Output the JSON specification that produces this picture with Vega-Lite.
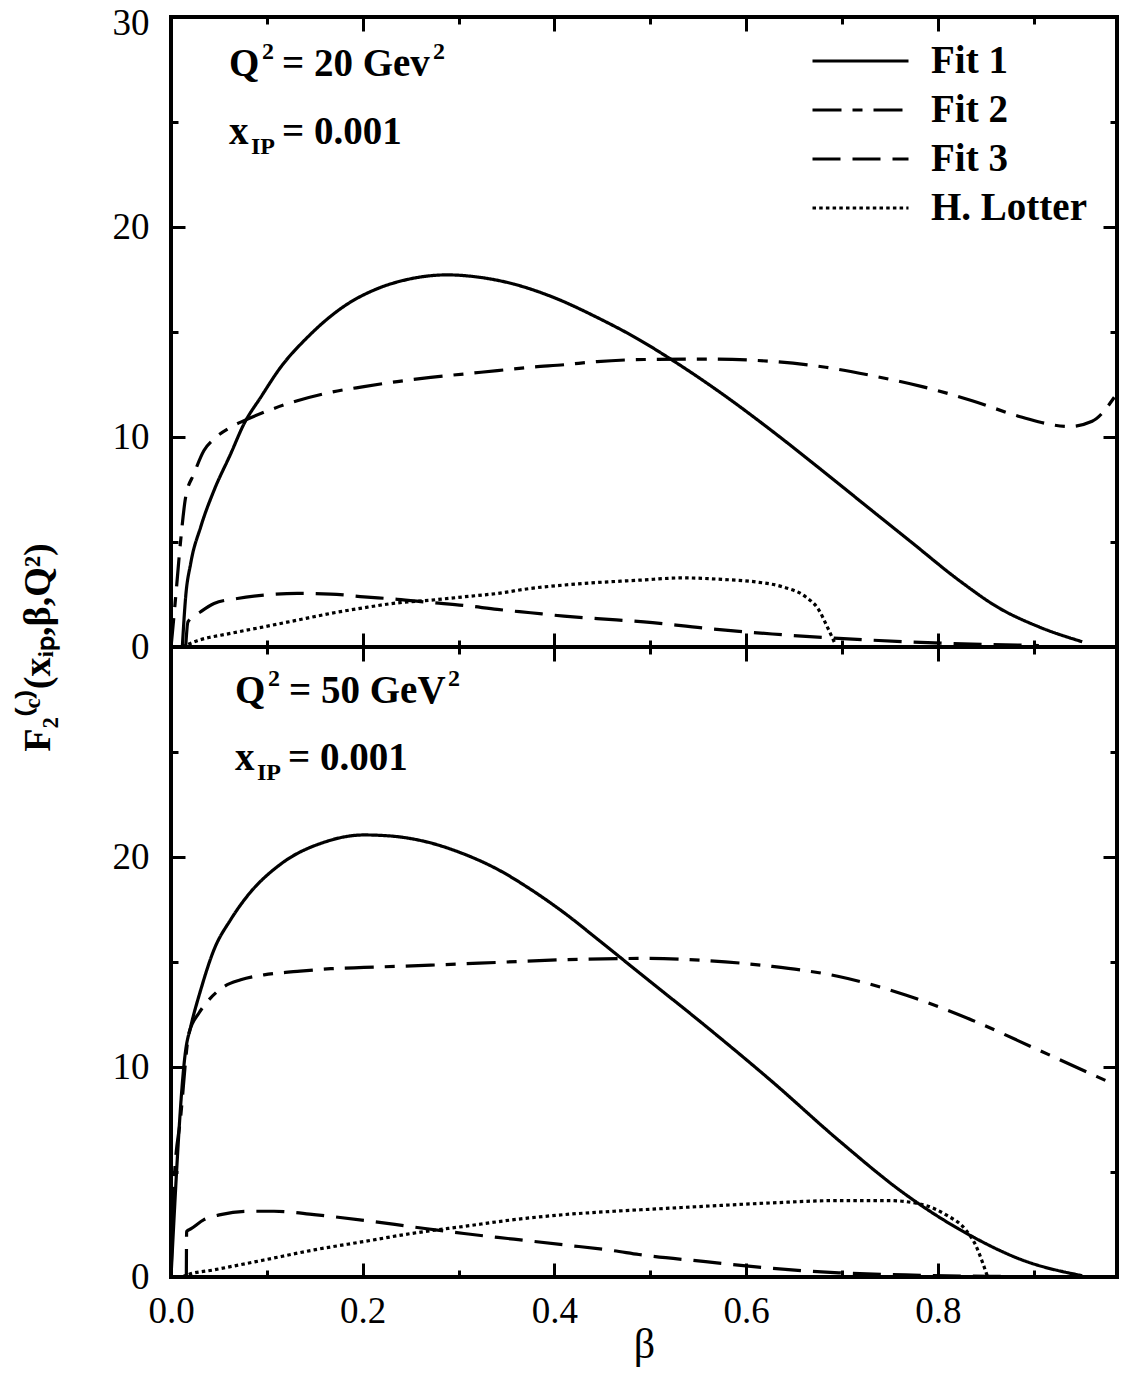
{
  "$schema": "https://vega.github.io/schema/vega-lite/v6.json",
  "padding": {"left": 17, "top": 2, "right": 5, "bottom": 5},
  "background": "white",
  "config": {
    "view": {"stroke": "black", "strokeWidth": 4},
    "font": "Liberation Serif",
    "axis": {
      "domain": false, "grid": false, "labelFlush": false,
      "labelFont": "Liberation Serif", "labelFontSize": 37, "labelColor": "black",
      "tickColor": "black", "tickWidth": 3,
      "titleFont": "Liberation Serif", "titleColor": "black"
    },
    "text": {"font": "Liberation Serif", "fontWeight": "bold", "color": "black"}
  },
  "datasets": {
    "top": [
      {"b": 0.0118, "v": 0, "s": "Fit 1"}, {"b": 0.0153, "v": 2.39, "s": "Fit 1"}, {"b": 0.0205, "v": 3.97, "s": "Fit 1"}, {"b": 0.031, "v": 5.72, "s": "Fit 1"}, {"b": 0.0449, "v": 7.46, "s": "Fit 1"}, {"b": 0.0623, "v": 9.2, "s": "Fit 1"}, {"b": 0.0762, "v": 10.63, "s": "Fit 1"}, {"b": 0.0936, "v": 11.89, "s": "Fit 1"}, {"b": 0.1144, "v": 13.32, "s": "Fit 1"}, {"b": 0.1422, "v": 14.74, "s": "Fit 1"}, {"b": 0.184, "v": 16.33, "s": "Fit 1"}, {"b": 0.2152, "v": 17.06, "s": "Fit 1"}, {"b": 0.2465, "v": 17.5, "s": "Fit 1"}, {"b": 0.2882, "v": 17.72, "s": "Fit 1"}, {"b": 0.3195, "v": 17.62, "s": "Fit 1"}, {"b": 0.3578, "v": 17.28, "s": "Fit 1"}, {"b": 0.3995, "v": 16.64, "s": "Fit 1"}, {"b": 0.4447, "v": 15.69, "s": "Fit 1"}, {"b": 0.4882, "v": 14.64, "s": "Fit 1"}, {"b": 0.523, "v": 13.66, "s": "Fit 1"}, {"b": 0.5786, "v": 11.94, "s": "Fit 1"}, {"b": 0.6273, "v": 10.28, "s": "Fit 1"}, {"b": 0.676, "v": 8.53, "s": "Fit 1"}, {"b": 0.7247, "v": 6.74, "s": "Fit 1"}, {"b": 0.7733, "v": 4.96, "s": "Fit 1"}, {"b": 0.822, "v": 3.18, "s": "Fit 1"}, {"b": 0.8638, "v": 1.86, "s": "Fit 1"}, {"b": 0.9055, "v": 0.96, "s": "Fit 1"}, {"b": 0.9507, "v": 0.25, "s": "Fit 1"},
      {"b": 0.0, "v": 0, "s": "Fit 2"}, {"b": 0.0014, "v": 0.65, "s": "Fit 2"}, {"b": 0.0049, "v": 2.39, "s": "Fit 2"}, {"b": 0.0101, "v": 5.08, "s": "Fit 2"}, {"b": 0.0153, "v": 7.14, "s": "Fit 2"}, {"b": 0.024, "v": 8.25, "s": "Fit 2"}, {"b": 0.0344, "v": 9.36, "s": "Fit 2"}, {"b": 0.0449, "v": 9.91, "s": "Fit 2"}, {"b": 0.0623, "v": 10.47, "s": "Fit 2"}, {"b": 0.0762, "v": 10.78, "s": "Fit 2"}, {"b": 0.097, "v": 11.18, "s": "Fit 2"}, {"b": 0.1318, "v": 11.73, "s": "Fit 2"}, {"b": 0.1666, "v": 12.13, "s": "Fit 2"}, {"b": 0.2013, "v": 12.4, "s": "Fit 2"}, {"b": 0.2361, "v": 12.64, "s": "Fit 2"}, {"b": 0.2709, "v": 12.84, "s": "Fit 2"}, {"b": 0.3057, "v": 13.0, "s": "Fit 2"}, {"b": 0.3404, "v": 13.16, "s": "Fit 2"}, {"b": 0.3752, "v": 13.32, "s": "Fit 2"}, {"b": 0.41, "v": 13.44, "s": "Fit 2"}, {"b": 0.4447, "v": 13.59, "s": "Fit 2"}, {"b": 0.4934, "v": 13.69, "s": "Fit 2"}, {"b": 0.5578, "v": 13.71, "s": "Fit 2"}, {"b": 0.6273, "v": 13.6, "s": "Fit 2"}, {"b": 0.683, "v": 13.32, "s": "Fit 2"}, {"b": 0.7316, "v": 12.92, "s": "Fit 2"}, {"b": 0.7838, "v": 12.4, "s": "Fit 2"}, {"b": 0.8359, "v": 11.73, "s": "Fit 2"}, {"b": 0.8881, "v": 10.94, "s": "Fit 2"}, {"b": 0.9368, "v": 10.5, "s": "Fit 2"}, {"b": 0.9611, "v": 10.75, "s": "Fit 2"}, {"b": 0.9854, "v": 11.97, "s": "Fit 2"},
      {"b": 0.0153, "v": 0, "s": "Fit 3"}, {"b": 0.0177, "v": 1.2, "s": "Fit 3"}, {"b": 0.031, "v": 1.68, "s": "Fit 3"}, {"b": 0.0449, "v": 2.07, "s": "Fit 3"}, {"b": 0.0692, "v": 2.31, "s": "Fit 3"}, {"b": 0.097, "v": 2.47, "s": "Fit 3"}, {"b": 0.1318, "v": 2.55, "s": "Fit 3"}, {"b": 0.1666, "v": 2.52, "s": "Fit 3"}, {"b": 0.2013, "v": 2.39, "s": "Fit 3"}, {"b": 0.2361, "v": 2.27, "s": "Fit 3"}, {"b": 0.2709, "v": 2.12, "s": "Fit 3"}, {"b": 0.3057, "v": 1.98, "s": "Fit 3"}, {"b": 0.3404, "v": 1.79, "s": "Fit 3"}, {"b": 0.3752, "v": 1.63, "s": "Fit 3"}, {"b": 0.41, "v": 1.47, "s": "Fit 3"}, {"b": 0.4447, "v": 1.35, "s": "Fit 3"}, {"b": 0.4934, "v": 1.2, "s": "Fit 3"}, {"b": 0.5578, "v": 0.89, "s": "Fit 3"}, {"b": 0.6273, "v": 0.62, "s": "Fit 3"}, {"b": 0.6968, "v": 0.41, "s": "Fit 3"}, {"b": 0.7664, "v": 0.25, "s": "Fit 3"}, {"b": 0.8359, "v": 0.14, "s": "Fit 3"}, {"b": 0.9055, "v": 0.07, "s": "Fit 3"},
      {"b": 0.0115, "v": 0, "s": "H. Lotter"}, {"b": 0.0275, "v": 0.3, "s": "H. Lotter"}, {"b": 0.0623, "v": 0.65, "s": "H. Lotter"}, {"b": 0.097, "v": 0.96, "s": "H. Lotter"}, {"b": 0.1318, "v": 1.28, "s": "H. Lotter"}, {"b": 0.1666, "v": 1.6, "s": "H. Lotter"}, {"b": 0.2013, "v": 1.87, "s": "H. Lotter"}, {"b": 0.2361, "v": 2.1, "s": "H. Lotter"}, {"b": 0.2709, "v": 2.23, "s": "H. Lotter"}, {"b": 0.3057, "v": 2.39, "s": "H. Lotter"}, {"b": 0.3404, "v": 2.55, "s": "H. Lotter"}, {"b": 0.3752, "v": 2.79, "s": "H. Lotter"}, {"b": 0.41, "v": 2.95, "s": "H. Lotter"}, {"b": 0.4447, "v": 3.07, "s": "H. Lotter"}, {"b": 0.4882, "v": 3.18, "s": "H. Lotter"}, {"b": 0.5334, "v": 3.29, "s": "H. Lotter"}, {"b": 0.5751, "v": 3.22, "s": "H. Lotter"}, {"b": 0.61, "v": 3.1, "s": "H. Lotter"}, {"b": 0.6377, "v": 2.87, "s": "H. Lotter"}, {"b": 0.6621, "v": 2.39, "s": "H. Lotter"}, {"b": 0.676, "v": 1.76, "s": "H. Lotter"}, {"b": 0.6847, "v": 0.96, "s": "H. Lotter"}, {"b": 0.6934, "v": 0.1, "s": "H. Lotter"}
    ],
    "bottom": [
      {"b": 0.0, "v": 0, "s": "Fit 1"}, {"b": 0.0153, "v": 10.8, "s": "Fit 1"}, {"b": 0.0205, "v": 11.91, "s": "Fit 1"}, {"b": 0.031, "v": 13.67, "s": "Fit 1"}, {"b": 0.0449, "v": 15.59, "s": "Fit 1"}, {"b": 0.0623, "v": 17.02, "s": "Fit 1"}, {"b": 0.0796, "v": 18.14, "s": "Fit 1"}, {"b": 0.1144, "v": 19.66, "s": "Fit 1"}, {"b": 0.1596, "v": 20.7, "s": "Fit 1"}, {"b": 0.2013, "v": 21.05, "s": "Fit 1"}, {"b": 0.2291, "v": 21.0, "s": "Fit 1"}, {"b": 0.2639, "v": 20.75, "s": "Fit 1"}, {"b": 0.3057, "v": 20.14, "s": "Fit 1"}, {"b": 0.3404, "v": 19.42, "s": "Fit 1"}, {"b": 0.3752, "v": 18.46, "s": "Fit 1"}, {"b": 0.41, "v": 17.35, "s": "Fit 1"}, {"b": 0.4447, "v": 16.1, "s": "Fit 1"}, {"b": 0.4882, "v": 14.5, "s": "Fit 1"}, {"b": 0.5578, "v": 11.95, "s": "Fit 1"}, {"b": 0.6273, "v": 9.3, "s": "Fit 1"}, {"b": 0.6968, "v": 6.5, "s": "Fit 1"}, {"b": 0.7664, "v": 3.93, "s": "Fit 1"}, {"b": 0.8359, "v": 1.93, "s": "Fit 1"}, {"b": 0.8881, "v": 0.81, "s": "Fit 1"}, {"b": 0.9507, "v": 0.06, "s": "Fit 1"},
      {"b": 0.0, "v": 0, "s": "Fit 2"}, {"b": 0.0031, "v": 4.4, "s": "Fit 2"}, {"b": 0.0101, "v": 7.63, "s": "Fit 2"}, {"b": 0.0188, "v": 11.61, "s": "Fit 2"}, {"b": 0.0292, "v": 12.57, "s": "Fit 2"}, {"b": 0.0379, "v": 13.11, "s": "Fit 2"}, {"b": 0.0553, "v": 13.83, "s": "Fit 2"}, {"b": 0.0727, "v": 14.15, "s": "Fit 2"}, {"b": 0.097, "v": 14.39, "s": "Fit 2"}, {"b": 0.1318, "v": 14.55, "s": "Fit 2"}, {"b": 0.1666, "v": 14.68, "s": "Fit 2"}, {"b": 0.2013, "v": 14.74, "s": "Fit 2"}, {"b": 0.2709, "v": 14.85, "s": "Fit 2"}, {"b": 0.3404, "v": 14.98, "s": "Fit 2"}, {"b": 0.41, "v": 15.11, "s": "Fit 2"}, {"b": 0.4934, "v": 15.17, "s": "Fit 2"}, {"b": 0.5578, "v": 15.07, "s": "Fit 2"}, {"b": 0.6273, "v": 14.79, "s": "Fit 2"}, {"b": 0.6968, "v": 14.31, "s": "Fit 2"}, {"b": 0.7664, "v": 13.43, "s": "Fit 2"}, {"b": 0.8359, "v": 12.23, "s": "Fit 2"}, {"b": 0.9055, "v": 10.8, "s": "Fit 2"}, {"b": 0.975, "v": 9.36, "s": "Fit 2"},
      {"b": 0.016, "v": 0, "s": "Fit 3"}, {"b": 0.0163, "v": 2.17, "s": "Fit 3"}, {"b": 0.021, "v": 2.3, "s": "Fit 3"}, {"b": 0.0344, "v": 2.73, "s": "Fit 3"}, {"b": 0.0518, "v": 2.97, "s": "Fit 3"}, {"b": 0.0796, "v": 3.13, "s": "Fit 3"}, {"b": 0.1074, "v": 3.13, "s": "Fit 3"}, {"b": 0.1492, "v": 2.97, "s": "Fit 3"}, {"b": 0.2013, "v": 2.7, "s": "Fit 3"}, {"b": 0.2535, "v": 2.38, "s": "Fit 3"}, {"b": 0.3057, "v": 2.07, "s": "Fit 3"}, {"b": 0.3578, "v": 1.8, "s": "Fit 3"}, {"b": 0.41, "v": 1.53, "s": "Fit 3"}, {"b": 0.4621, "v": 1.25, "s": "Fit 3"}, {"b": 0.4882, "v": 1.07, "s": "Fit 3"}, {"b": 0.5578, "v": 0.73, "s": "Fit 3"}, {"b": 0.6273, "v": 0.41, "s": "Fit 3"}, {"b": 0.6968, "v": 0.2, "s": "Fit 3"}, {"b": 0.7664, "v": 0.1, "s": "Fit 3"}, {"b": 0.8359, "v": 0.04, "s": "Fit 3"}, {"b": 0.88, "v": 0.02, "s": "Fit 3"},
      {"b": 0.012, "v": 0, "s": "H. Lotter"}, {"b": 0.017, "v": 0.1, "s": "H. Lotter"}, {"b": 0.0449, "v": 0.34, "s": "H. Lotter"}, {"b": 0.097, "v": 0.81, "s": "H. Lotter"}, {"b": 0.1492, "v": 1.29, "s": "H. Lotter"}, {"b": 0.2013, "v": 1.69, "s": "H. Lotter"}, {"b": 0.2535, "v": 2.09, "s": "H. Lotter"}, {"b": 0.3057, "v": 2.41, "s": "H. Lotter"}, {"b": 0.3578, "v": 2.73, "s": "H. Lotter"}, {"b": 0.41, "v": 2.97, "s": "H. Lotter"}, {"b": 0.4621, "v": 3.13, "s": "H. Lotter"}, {"b": 0.4934, "v": 3.21, "s": "H. Lotter"}, {"b": 0.5578, "v": 3.37, "s": "H. Lotter"}, {"b": 0.6273, "v": 3.53, "s": "H. Lotter"}, {"b": 0.6968, "v": 3.64, "s": "H. Lotter"}, {"b": 0.749, "v": 3.64, "s": "H. Lotter"}, {"b": 0.7838, "v": 3.45, "s": "H. Lotter"}, {"b": 0.8082, "v": 2.97, "s": "H. Lotter"}, {"b": 0.829, "v": 2.25, "s": "H. Lotter"}, {"b": 0.8394, "v": 1.53, "s": "H. Lotter"}, {"b": 0.8464, "v": 0.73, "s": "H. Lotter"}, {"b": 0.8516, "v": 0.06, "s": "H. Lotter"}
    ]
  },
  "spacing": 0,
  "bounds": "flush",
  "resolve": {"legend": {"strokeDash": "independent"}},
  "vconcat": [
    {
      "width": 946, "height": 630,
      "resolve": {"axis": {"x": "independent", "y": "independent"}},
      "layer": [
        {
          "data": {"name": "top"},
          "mark": {"type": "line", "color": "black", "strokeWidth": 3.2, "interpolate": "monotone"},
          "encoding": {
            "x": {"field": "b", "type": "quantitative", "scale": {"domain": [0, 0.987], "nice": false, "zero": false},
              "axis": {"orient": "bottom", "values": [0, 0.1, 0.2, 0.3, 0.4, 0.5, 0.6, 0.7, 0.8, 0.9], "labels": false, "title": null,
                "tickSize": {"expr": "round(datum.value*10) % 2 == 0 ? -14 : -7"}}},
            "y": {"field": "v", "type": "quantitative", "scale": {"domain": [0, 30], "nice": false},
              "axis": {"orient": "left", "values": [0, 5, 10, 15, 20, 25, 30], "labelExpr": "datum.value % 10 == 0 ? datum.label : ''",
                "labelPadding": 36, "labelOffset": {"expr": "datum.value == 30 ? 6 : 0"},
                "tickSize": {"expr": "datum.value % 10 == 0 ? -14 : -7"},
                "title": "F₂⁽ᶜ⁾(xᵢₚ,β,Q²)", "titleFontSize": 38, "titleFontWeight": "bold", "titleAngle": 270,
                "titleX": -122, "titleY": 630, "titleAlign": "center", "titleBaseline": "alphabetic"}},
            "strokeDash": {"field": "s", "type": "nominal",
              "scale": {"domain": ["Fit 1", "Fit 2", "Fit 3", "H. Lotter"], "range": [[1, 0], [29, 11, 10, 11], [28, 12], [3.5, 3.2]]},
              "legend": {"orient": "none", "legendX": 634, "legendY": 24.5, "title": null, "padding": 0,
                "symbolType": "M-1,0H7", "symbolSize": 576, "symbolStrokeWidth": 3, "symbolStrokeColor": "black",
                "labelFont": "Liberation Serif", "labelFontWeight": "bold", "labelFontSize": 39, "labelColor": "black",
                "labelOffset": 87, "rowPadding": 9, "labelLimit": 400}}
          }
        },
        {
          "data": {"values": [{}]},
          "mark": {"type": "text", "align": "left", "baseline": "alphabetic", "fontSize": 39},
          "encoding": {
            "x": {"datum": 0.0605, "type": "quantitative", "scale": {"domain": [0, 0.987], "nice": false, "zero": false},
              "axis": {"orient": "top", "values": [0, 0.1, 0.2, 0.3, 0.4, 0.5, 0.6, 0.7, 0.8, 0.9], "labels": false, "title": null,
                "tickSize": {"expr": "round(datum.value*10) % 2 == 0 ? -14 : -7"}}},
            "y": {"datum": 27.17, "type": "quantitative", "scale": {"domain": [0, 30], "nice": false},
              "axis": {"orient": "right", "values": [0, 5, 10, 15, 20, 25, 30], "labels": false, "title": null,
                "tickSize": {"expr": "datum.value % 10 == 0 ? -14 : -7"}}},
            "text": {"value": "Q"}
          }
        },
        {
          "data": {"values": [{}]},
          "mark": {"type": "text", "align": "left", "baseline": "alphabetic", "fontSize": 24, "dx": 33, "dy": -17},
          "encoding": {
            "x": {"datum": 0.0605, "type": "quantitative", "axis": null},
            "y": {"datum": 27.17, "type": "quantitative", "axis": null},
            "text": {"value": "2"}
          }
        },
        {
          "data": {"values": [{}]},
          "mark": {"type": "text", "align": "left", "baseline": "alphabetic", "fontSize": 39, "dx": 53},
          "encoding": {
            "x": {"datum": 0.0605, "type": "quantitative", "axis": null},
            "y": {"datum": 27.17, "type": "quantitative", "axis": null},
            "text": {"value": "= 20 Gev"}
          }
        },
        {
          "data": {"values": [{}]},
          "mark": {"type": "text", "align": "left", "baseline": "alphabetic", "fontSize": 24, "dx": 204, "dy": -17},
          "encoding": {
            "x": {"datum": 0.0605, "type": "quantitative", "axis": null},
            "y": {"datum": 27.17, "type": "quantitative", "axis": null},
            "text": {"value": "2"}
          }
        },
        {
          "data": {"values": [{}]},
          "mark": {"type": "text", "align": "left", "baseline": "alphabetic", "fontSize": 39},
          "encoding": {
            "x": {"datum": 0.0605, "type": "quantitative", "axis": null},
            "y": {"datum": 23.93, "type": "quantitative", "axis": null},
            "text": {"value": "x"}
          }
        },
        {
          "data": {"values": [{}]},
          "mark": {"type": "text", "align": "left", "baseline": "alphabetic", "fontSize": 24, "dx": 22, "dy": 10},
          "encoding": {
            "x": {"datum": 0.0605, "type": "quantitative", "axis": null},
            "y": {"datum": 23.93, "type": "quantitative", "axis": null},
            "text": {"value": "IP"}
          }
        },
        {
          "data": {"values": [{}]},
          "mark": {"type": "text", "align": "left", "baseline": "alphabetic", "fontSize": 39, "dx": 53},
          "encoding": {
            "x": {"datum": 0.0605, "type": "quantitative", "axis": null},
            "y": {"datum": 23.93, "type": "quantitative", "axis": null},
            "text": {"value": "= 0.001"}
          }
        }
      ]
    },
    {
      "width": 946, "height": 630,
      "resolve": {"axis": {"x": "independent", "y": "independent"}},
      "layer": [
        {
          "data": {"name": "bottom"},
          "mark": {"type": "line", "color": "black", "strokeWidth": 3.2, "interpolate": "monotone"},
          "encoding": {
            "x": {"field": "b", "type": "quantitative", "scale": {"domain": [0, 0.987], "nice": false, "zero": false},
              "axis": {"orient": "bottom", "values": [0, 0.1, 0.2, 0.3, 0.4, 0.5, 0.6, 0.7, 0.8, 0.9],
                "labelExpr": "round(datum.value*10) % 2 == 0 ? format(datum.value, '.1f') : ''", "labelPadding": 30,
                "tickSize": {"expr": "round(datum.value*10) % 2 == 0 ? -14 : -7"},
                "title": "β", "titleFontSize": 42, "titleFontWeight": "normal", "titleY": 80, "titleBaseline": "alphabetic"}},
            "y": {"field": "v", "type": "quantitative", "scale": {"domain": [0, 30], "nice": false},
              "axis": {"orient": "left", "values": [0, 5, 10, 15, 20, 25, 30], "labelExpr": "datum.value % 10 == 0 && datum.value < 30 ? datum.label : ''",
                "labelPadding": 36, "tickSize": {"expr": "datum.value % 10 == 0 ? -14 : -7"}, "title": null}},
            "strokeDash": {"field": "s", "type": "nominal",
              "scale": {"domain": ["Fit 1", "Fit 2", "Fit 3", "H. Lotter"], "range": [[1, 0], [29, 11, 10, 11], [28, 12], [3.5, 3.2]]},
              "legend": null}
          }
        },
        {
          "data": {"values": [{}]},
          "mark": {"type": "text", "align": "left", "baseline": "alphabetic", "fontSize": 39},
          "encoding": {
            "x": {"datum": 0.0668, "type": "quantitative", "scale": {"domain": [0, 0.987], "nice": false, "zero": false},
              "axis": {"orient": "top", "values": [0, 0.1, 0.2, 0.3, 0.4, 0.5, 0.6, 0.7, 0.8, 0.9], "labels": false, "title": null,
                "tickSize": {"expr": "round(datum.value*10) % 2 == 0 ? -14 : -7"}}},
            "y": {"datum": 27.33, "type": "quantitative", "scale": {"domain": [0, 30], "nice": false},
              "axis": {"orient": "right", "values": [0, 5, 10, 15, 20, 25, 30], "labels": false, "title": null,
                "tickSize": {"expr": "datum.value % 10 == 0 ? -14 : -7"}}},
            "text": {"value": "Q"}
          }
        },
        {
          "data": {"values": [{}]},
          "mark": {"type": "text", "align": "left", "baseline": "alphabetic", "fontSize": 24, "dx": 33, "dy": -17},
          "encoding": {
            "x": {"datum": 0.0668, "type": "quantitative", "axis": null},
            "y": {"datum": 27.33, "type": "quantitative", "axis": null},
            "text": {"value": "2"}
          }
        },
        {
          "data": {"values": [{}]},
          "mark": {"type": "text", "align": "left", "baseline": "alphabetic", "fontSize": 39, "dx": 54},
          "encoding": {
            "x": {"datum": 0.0668, "type": "quantitative", "axis": null},
            "y": {"datum": 27.33, "type": "quantitative", "axis": null},
            "text": {"value": "= 50 GeV"}
          }
        },
        {
          "data": {"values": [{}]},
          "mark": {"type": "text", "align": "left", "baseline": "alphabetic", "fontSize": 24, "dx": 213, "dy": -17},
          "encoding": {
            "x": {"datum": 0.0668, "type": "quantitative", "axis": null},
            "y": {"datum": 27.33, "type": "quantitative", "axis": null},
            "text": {"value": "2"}
          }
        },
        {
          "data": {"values": [{}]},
          "mark": {"type": "text", "align": "left", "baseline": "alphabetic", "fontSize": 39},
          "encoding": {
            "x": {"datum": 0.0668, "type": "quantitative", "axis": null},
            "y": {"datum": 24.13, "type": "quantitative", "axis": null},
            "text": {"value": "x"}
          }
        },
        {
          "data": {"values": [{}]},
          "mark": {"type": "text", "align": "left", "baseline": "alphabetic", "fontSize": 24, "dx": 22, "dy": 10},
          "encoding": {
            "x": {"datum": 0.0668, "type": "quantitative", "axis": null},
            "y": {"datum": 24.13, "type": "quantitative", "axis": null},
            "text": {"value": "IP"}
          }
        },
        {
          "data": {"values": [{}]},
          "mark": {"type": "text", "align": "left", "baseline": "alphabetic", "fontSize": 39, "dx": 53},
          "encoding": {
            "x": {"datum": 0.0668, "type": "quantitative", "axis": null},
            "y": {"datum": 24.13, "type": "quantitative", "axis": null},
            "text": {"value": "= 0.001"}
          }
        }
      ]
    }
  ]
}
